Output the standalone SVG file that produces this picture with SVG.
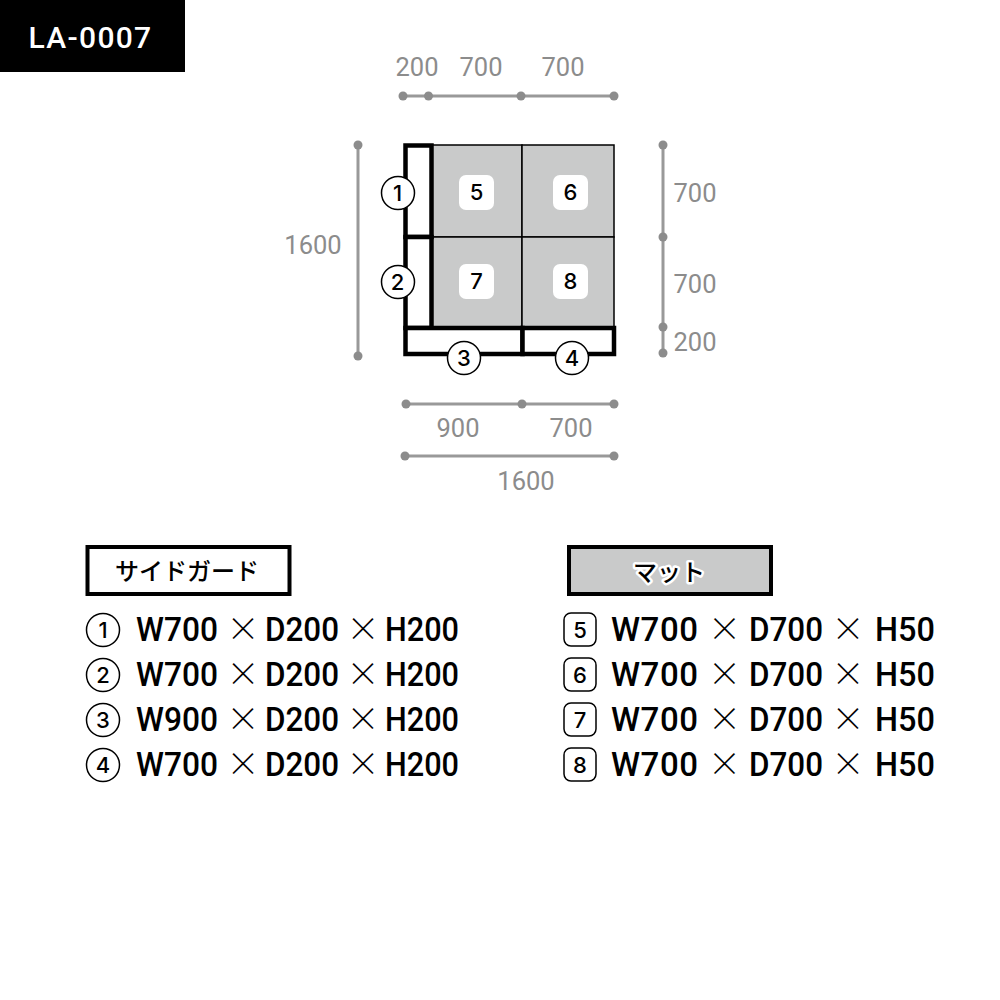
<svg xmlns="http://www.w3.org/2000/svg" width="1000" height="1000" viewBox="0 0 1000 1000">
<style>
text{font-family:Roboto,"Noto Sans CJK JP",sans-serif;font-weight:500}
.dim{font-size:25.500px;font-weight:450;fill:#8c8c8c;text-anchor:middle}
.num{font-family:Inter,Roboto,sans-serif;font-size:22px;fill:#000;text-anchor:middle}
.lnum{font-family:Inter,Roboto,sans-serif;font-size:22px;font-weight:450;fill:#000;text-anchor:middle}
.spec{font-size:33px;font-weight:480;fill:#000}
.x{font-family:"Noto Sans CJK JP",sans-serif;font-weight:300;font-size:33px;fill:#000;text-anchor:middle}
.ln{stroke:#999;stroke-width:3;fill:none}
.dot{fill:#8c8c8c}
.g{fill:#fff;stroke:#000;stroke-width:4.500}
.m{fill:#c9caca;stroke:#000;stroke-width:1.500}
.c{fill:#fff;stroke:#000;stroke-width:1.500}
.h{font-size:24px;fill:#000;text-anchor:middle;font-family:"Noto Sans CJK JP",sans-serif;font-weight:500}
.lc{fill:none;stroke:#000;stroke-width:1.500}
</style>
<g id="title"><rect x="0" y="0" width="185" height="72" fill="#000"/><text x="90.500" y="48" font-size="30" font-weight="400" fill="#fff" text-anchor="middle" letter-spacing="1.300">LA-0007</text></g>
<g id="mats">
<rect class="m" x="431" y="145" width="91" height="92"/><rect class="m" x="522" y="145" width="92" height="92"/>
<rect class="m" x="431" y="237" width="91" height="91"/><rect class="m" x="522" y="237" width="92" height="91"/>
</g>
<g id="guards">
<rect class="g" x="405.500" y="145.500" width="26" height="91.500"/>
<rect class="g" x="405.500" y="237" width="26" height="91"/>
<rect class="g" x="405.500" y="328" width="117" height="26"/>
<rect class="g" x="522.500" y="328" width="91.500" height="26"/>
</g>
<g id="n1"><circle class="c" cx="398" cy="193" r="16.500"/><text class="num" x="397.500" y="201">1</text></g>
<g id="n2"><circle class="c" cx="398" cy="282" r="16.500"/><text class="num" x="397.500" y="290">2</text></g>
<g id="n3"><circle class="c" cx="464" cy="358" r="16.500"/><text class="num" x="464" y="366">3</text></g>
<g id="n4"><circle class="c" cx="572" cy="358" r="16.500"/><text class="num" x="572" y="366">4</text></g>
<g id="n5"><rect x="459" y="175" width="35" height="35" rx="7" fill="#fff"/><text class="num" x="476.500" y="200">5</text></g>
<g id="n6"><rect x="553" y="175" width="35" height="35" rx="7" fill="#fff"/><text class="num" x="570.500" y="200">6</text></g>
<g id="n7"><rect x="459" y="264" width="35" height="35" rx="7" fill="#fff"/><text class="num" x="476.500" y="289">7</text></g>
<g id="n8"><rect x="553" y="264" width="35" height="35" rx="7" fill="#fff"/><text class="num" x="570.500" y="289">8</text></g>
<g id="connectors">
<path class="ln" d="M403 96H614M358 145V356M663 145V354M405 404H614M405 456H614"/>
<g class="dot">
<circle cx="403" cy="96" r="4.500"/><circle cx="428.500" cy="96" r="4.500"/><circle cx="521" cy="96" r="4.500"/><circle cx="614" cy="96" r="4.500"/>
<circle cx="358" cy="145" r="4.500"/><circle cx="358" cy="356" r="4.500"/>
<circle cx="663" cy="145" r="4.500"/><circle cx="663" cy="237" r="4.500"/><circle cx="663" cy="327" r="4.500"/><circle cx="663" cy="353" r="4.500"/>
<circle cx="406" cy="404" r="4.500"/><circle cx="522" cy="404" r="4.500"/><circle cx="614" cy="404" r="4.500"/>
<circle cx="405" cy="456" r="4.500"/><circle cx="614" cy="456" r="4.500"/>
</g>
</g>
<g id="dimensions">
<text class="dim" x="417" y="76">200</text><text class="dim" x="481" y="76">700</text><text class="dim" x="563" y="76">700</text>
<text class="dim" x="313" y="254">1600</text>
<text class="dim" x="695" y="202">700</text><text class="dim" x="695" y="293">700</text><text class="dim" x="695" y="351">200</text>
<text class="dim" x="458" y="437">900</text><text class="dim" x="571" y="437">700</text>
<text class="dim" x="526" y="490">1600</text>
</g>
<g id="side-guard-head"><rect x="87.500" y="547" width="202" height="47" fill="#fff" stroke="#000" stroke-width="4"/><text class="h" x="187" y="580">サイドガード</text></g>
<g id="mat-head"><rect x="569" y="547" width="202" height="47" fill="#c9caca" stroke="#000" stroke-width="4"/><text class="h" x="669" y="581" stroke="#fff" stroke-width="5" stroke-linejoin="round" paint-order="stroke">マット</text></g>
<g id="list-left">
<g id="l1"><circle class="lc" cx="103" cy="630" r="16.500"/><text class="lnum" x="103" y="638">1</text><text class="spec" x="136" y="641" textLength="82" lengthAdjust="spacingAndGlyphs">W700</text><text class="x" x="243" y="641">×</text><text class="spec" x="265" y="641" textLength="74" lengthAdjust="spacingAndGlyphs">D200</text><text class="x" x="363" y="641">×</text><text class="spec" x="385" y="641" textLength="74" lengthAdjust="spacingAndGlyphs">H200</text></g>
<g id="l2"><circle class="lc" cx="103" cy="675" r="16.500"/><text class="lnum" x="103" y="683">2</text><text class="spec" x="136" y="686" textLength="82" lengthAdjust="spacingAndGlyphs">W700</text><text class="x" x="243" y="686">×</text><text class="spec" x="265" y="686" textLength="74" lengthAdjust="spacingAndGlyphs">D200</text><text class="x" x="363" y="686">×</text><text class="spec" x="385" y="686" textLength="74" lengthAdjust="spacingAndGlyphs">H200</text></g>
<g id="l3"><circle class="lc" cx="103" cy="720" r="16.500"/><text class="lnum" x="103" y="728">3</text><text class="spec" x="136" y="731" textLength="82" lengthAdjust="spacingAndGlyphs">W900</text><text class="x" x="243" y="731">×</text><text class="spec" x="265" y="731" textLength="74" lengthAdjust="spacingAndGlyphs">D200</text><text class="x" x="363" y="731">×</text><text class="spec" x="385" y="731" textLength="74" lengthAdjust="spacingAndGlyphs">H200</text></g>
<g id="l4"><circle class="lc" cx="103" cy="765" r="16.500"/><text class="lnum" x="103" y="773">4</text><text class="spec" x="136" y="776" textLength="82" lengthAdjust="spacingAndGlyphs">W700</text><text class="x" x="243" y="776">×</text><text class="spec" x="265" y="776" textLength="74" lengthAdjust="spacingAndGlyphs">D200</text><text class="x" x="363" y="776">×</text><text class="spec" x="385" y="776" textLength="74" lengthAdjust="spacingAndGlyphs">H200</text></g>
</g>
<g id="list-right">
<g id="r5"><rect class="lc" x="564" y="613" width="32" height="33" rx="7"/><text class="lnum" x="580" y="638">5</text><text class="spec" x="611" y="641" textLength="87" lengthAdjust="spacing">W700</text><text class="x" x="724.500" y="641">×</text><text class="spec" x="749" y="641" textLength="74" lengthAdjust="spacingAndGlyphs">D700</text><text class="x" x="848" y="641">×</text><text class="spec" x="875" y="641" textLength="60" lengthAdjust="spacingAndGlyphs">H50</text></g>
<g id="r6"><rect class="lc" x="564" y="658" width="32" height="33" rx="7"/><text class="lnum" x="580" y="683">6</text><text class="spec" x="611" y="686" textLength="87" lengthAdjust="spacing">W700</text><text class="x" x="724.500" y="686">×</text><text class="spec" x="749" y="686" textLength="74" lengthAdjust="spacingAndGlyphs">D700</text><text class="x" x="848" y="686">×</text><text class="spec" x="875" y="686" textLength="60" lengthAdjust="spacingAndGlyphs">H50</text></g>
<g id="r7"><rect class="lc" x="564" y="703" width="32" height="33" rx="7"/><text class="lnum" x="580" y="728">7</text><text class="spec" x="611" y="731" textLength="87" lengthAdjust="spacing">W700</text><text class="x" x="724.500" y="731">×</text><text class="spec" x="749" y="731" textLength="74" lengthAdjust="spacingAndGlyphs">D700</text><text class="x" x="848" y="731">×</text><text class="spec" x="875" y="731" textLength="60" lengthAdjust="spacingAndGlyphs">H50</text></g>
<g id="r8"><rect class="lc" x="564" y="748" width="32" height="33" rx="7"/><text class="lnum" x="580" y="773">8</text><text class="spec" x="611" y="776" textLength="87" lengthAdjust="spacing">W700</text><text class="x" x="724.500" y="776">×</text><text class="spec" x="749" y="776" textLength="74" lengthAdjust="spacingAndGlyphs">D700</text><text class="x" x="848" y="776">×</text><text class="spec" x="875" y="776" textLength="60" lengthAdjust="spacingAndGlyphs">H50</text></g>
</g>
</svg>
